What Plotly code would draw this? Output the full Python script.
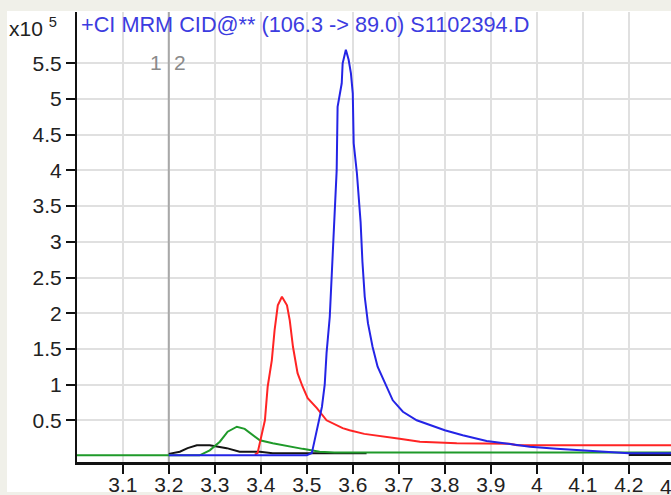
import plotly.graph_objects as go

# Retention time (min) and abundance (x10^5) for each MRM trace
black_t = [3.2, 3.224, 3.241, 3.261, 3.289, 3.326, 3.354, 3.398, 3.426, 3.63, None, 4.2, 4.3]
black_y = [0.03, 0.06, 0.11, 0.15, 0.15, 0.11, 0.06, 0.06, 0.04, 0.04, None, 0.015, 0.015]

green_t = [3.0, 3.267, 3.289, 3.311, 3.328, 3.348, 3.365, 3.383, 3.398, 3.426, 3.457,
           3.491, 3.528, 3.56, 4.3]
green_y = [0.01, 0.01, 0.08, 0.20, 0.34, 0.41, 0.38, 0.29, 0.22, 0.18, 0.14,
           0.10, 0.06, 0.05, 0.05]

red_t = [3.387, 3.393, 3.409, 3.415, 3.424, 3.430, 3.437, 3.446, 3.457, 3.463, 3.470,
         3.480, 3.491, 3.502, 3.522, 3.543, 3.578, 3.593, 3.625, 3.665, 3.702, 3.746,
         3.826, 3.941, 3.957, 4.3]
red_y = [0.02, 0.04, 0.50, 0.97, 1.34, 1.76, 2.11, 2.23, 2.11, 1.90, 1.53,
         1.16, 0.97, 0.81, 0.67, 0.50, 0.39, 0.36, 0.31, 0.27, 0.24, 0.20,
         0.18, 0.17, 0.15, 0.15]

blue_t = [3.2, 3.5, 3.511, 3.524, 3.533, 3.539, 3.543, 3.550, 3.554, 3.559, 3.565,
          3.567, 3.576, 3.578, 3.585, 3.591, 3.596, 3.600, 3.602, 3.609, 3.613, 3.617,
          3.621, 3.626, 3.633, 3.643, 3.654, 3.670, 3.687, 3.709, 3.739, 3.8, 3.839,
          3.891, 3.941, 3.985, 4.043, 4.143, 4.2, 4.3]
blue_y = [0.01, 0.01, 0.04, 0.41, 0.69, 1.0, 1.44, 1.95, 2.46, 3.03, 4.0,
          4.89, 5.22, 5.50, 5.69, 5.55, 5.36, 5.08, 4.38, 3.96, 3.59, 3.28,
          2.72, 2.23, 1.86, 1.53, 1.25, 1.02, 0.78, 0.62, 0.50, 0.36, 0.29,
          0.21, 0.17, 0.13, 0.10, 0.06, 0.04, 0.04]

x_ticks = [3.1, 3.2, 3.3, 3.4, 3.5, 3.6, 3.7, 3.8, 3.9, 4.0, 4.1, 4.2, 4.3]
x_tick_text = ["3.1", "3.2", "3.3", "3.4", "3.5", "3.6", "3.7", "3.8", "3.9", "4",
               "4.1", "4.2", "4.3"]
y_ticks = [0.5, 1, 1.5, 2, 2.5, 3, 3.5, 4, 4.5, 5, 5.5]
y_tick_text = ["0.5", "1", "1.5", "2", "2.5", "3", "3.5", "4", "4.5", "5", "5.5"]

title_text = "+CI MRM CID@** (106.3 -> 89.0) S1102394.D"
marker_time = 3.2

W, H = 671, 495
ML, MT, MB = 77, 12, 33
FONT = "Liberation Sans, Arial, sans-serif"
FRAME = "#f0f0e9"
PX_PER_MIN = 460.0
PX_PER_UNIT = 71.4

plot_w = W - ML
plot_h = H - MT - MB
x_start = 3.0005
x_range = [x_start, x_start + plot_w / PX_PER_MIN]
y_range = [-6 / PX_PER_UNIT, (plot_h - 6) / PX_PER_UNIT]

fig = go.Figure()

# Peak marker line between integration windows (drawn over the grid, under the traces)
fig.add_trace(go.Scatter(x=[marker_time, marker_time], y=y_range, mode="lines",
                         line=dict(color="#a8a8a8", width=2), hoverinfo="skip"))

for t, y, c in [(black_t, black_y, "#141414"),
                (green_t, green_y, "#1f9a2a"),
                (red_t, red_y, "#ff2424"),
                (blue_t, blue_y, "#2424e6")]:
    fig.add_trace(go.Scatter(x=t, y=y, mode="lines",
                             line=dict(color=c, width=2),
                             connectgaps=False, hoverinfo="skip"))


def px_x(px):
    return (px - ML) / plot_w


def px_y(py):
    return (H - MB - py) / plot_h


# Window frame strips
for x0, x1, y0, y1 in [(0, 7, 0, H), (0, W, 0, 11), (0, W, 492, H)]:
    fig.add_shape(type="rect", xref="paper", yref="paper",
                  x0=px_x(x0), x1=px_x(x1), y0=px_y(y1), y1=px_y(y0),
                  fillcolor=FRAME, line=dict(width=0), layer="above")

fig.add_annotation(xref="paper", yref="paper", x=px_x(79), y=px_y(25),
                   xanchor="left", yanchor="middle", showarrow=False,
                   text=title_text, font=dict(family=FONT, size=21.7, color="#3c3ce0"))
fig.add_annotation(xref="paper", yref="paper", x=px_x(7), y=px_y(27),
                   xanchor="left", yanchor="middle", showarrow=False,
                   text="x10 <sup>5</sup>", font=dict(family=FONT, size=21, color="#222222"))
fig.add_annotation(xref="x", yref="paper", x=marker_time, y=px_y(62),
                   xanchor="right", yanchor="middle", showarrow=False, xshift=-5,
                   text="1", font=dict(family=FONT, size=21, color="#8a8a8a"))
fig.add_annotation(xref="x", yref="paper", x=marker_time, y=px_y(62),
                   xanchor="left", yanchor="middle", showarrow=False, xshift=3,
                   text="2", font=dict(family=FONT, size=21, color="#8a8a8a"))

# Last tick label sits past the right edge of the plot window and is cut off by it
last_px = ML + (x_ticks[-1] - x_range[0]) * PX_PER_MIN
fig.add_annotation(xref="paper", yref="paper", x=px_x(last_px), y=px_y(474),
                   xanchor="center", yanchor="top", showarrow=False,
                   text=x_tick_text[-1], font=dict(family=FONT, size=21, color="#222222"),
                   borderpad=0)

fig.update_layout(
    width=W, height=H,
    margin=dict(l=ML, r=0, t=MT, b=MB, pad=0),
    paper_bgcolor="white", plot_bgcolor="white",
    showlegend=False,
    font=dict(family=FONT, size=21, color="#222222"),
    xaxis=dict(range=x_range, tickvals=x_ticks, ticktext=x_tick_text,
               showgrid=True, gridcolor="#e0e0e0", gridwidth=2,
               showline=True, linecolor="#111111", linewidth=3,
               ticks="outside", ticklen=2, tickwidth=2, tickcolor="#111111",
               minor=dict(ticks="outside", ticklen=9, tickwidth=2, tickcolor="#111111",
                          tick0=3.1, dtick=0.1, showgrid=False),
               automargin=False,
               zeroline=False, fixedrange=True),
    yaxis=dict(range=y_range, tickvals=y_ticks, ticktext=y_tick_text,
               showgrid=True, gridcolor="#e0e0e0", gridwidth=2,
               showline=True, linecolor="#111111", linewidth=2,
               ticks="outside", ticklen=9, tickwidth=2, tickcolor="#111111",
               automargin=False,
               zeroline=False, fixedrange=True),
)

fig.write_html("out.html")
